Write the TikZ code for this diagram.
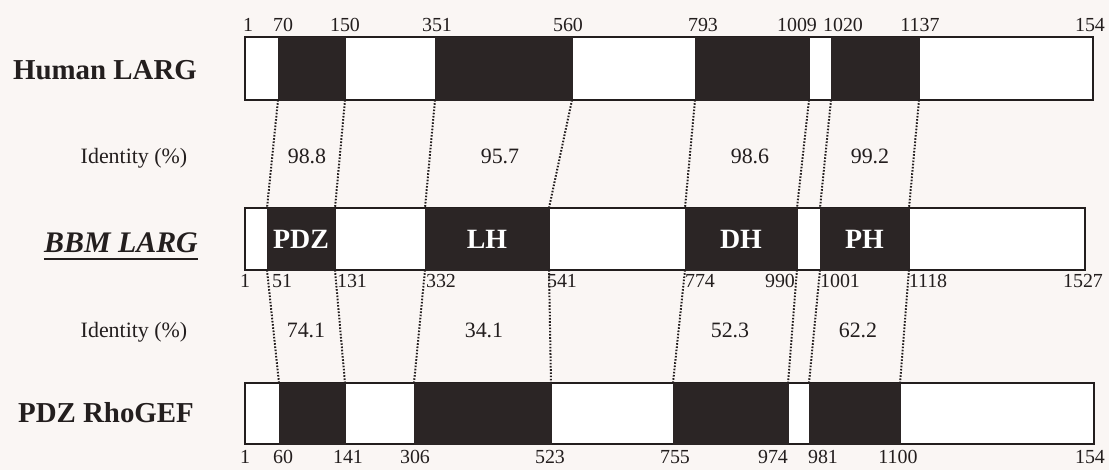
\documentclass[tikz,border=0pt]{standalone}
\usepackage{fontspec}
\setmainfont{Liberation Serif}
\definecolor{domc}{RGB}{43,37,37}
\definecolor{bgc}{RGB}{250,246,244}
\definecolor{ink}{RGB}{35,30,30}
\begin{document}
\begin{tikzpicture}[x=1bp,y=-1bp,
  protbar/.style={draw=ink, line width=1.1bp, fill=white, inner sep=0pt, outer sep=0pt, anchor=north west, rectangle},
  dombox/.style={draw=domc, fill=domc, line width=0.6bp, inner sep=0pt, outer sep=0pt, anchor=north west, rectangle,
    text=white, font=\fontsize{28}{28}\selectfont\bfseries},
  dotl/.style={dash pattern=on 1.6bp off 1.6bp, line width=2bp, draw=ink},
  num/.style={font=\fontsize{20}{20}\selectfont, text=ink, anchor=base, inner sep=0pt},
  ident/.style={font=\fontsize{22}{22}\selectfont, text=ink, anchor=base, inner sep=0pt},
  protlabel/.style={font=\fontsize{29}{29}\selectfont\bfseries, text=ink, anchor=base, inner sep=0pt}]
\useasboundingbox (0,0) rectangle (1109,470);
\fill[bgc] (0,0) rectangle (1109,470);

% bars
\node[protbar, minimum width=848bp, minimum height=63bp] (hbar) at (245,37) {};
\node[protbar, minimum width=840bp, minimum height=62bp] (bbar) at (245,208) {};
\node[protbar, minimum width=849bp, minimum height=61bp] (pbar) at (245,383) {};

% human domains
\node[dombox, minimum width=67bp, minimum height=63bp] (hd1) at (278,37) {};
\node[dombox, minimum width=137bp, minimum height=63bp] (hd2) at (435,37) {};
\node[dombox, minimum width=114bp, minimum height=63bp] (hd3) at (695,37) {};
\node[dombox, minimum width=88bp, minimum height=63bp] (hd4) at (831,37) {};
% BBM domains
\node[dombox, minimum width=68bp, minimum height=62bp] (bd1) at (267,208) {PDZ};
\node[dombox, minimum width=124bp, minimum height=62bp] (bd2) at (425,208) {LH};
\node[dombox, minimum width=112bp, minimum height=62bp] (bd3) at (685,208) {DH};
\node[dombox, minimum width=89bp, minimum height=62bp] (bd4) at (820,208) {PH};
% PDZ RhoGEF domains
\node[dombox, minimum width=66bp, minimum height=61bp] (pd1) at (279,383) {};
\node[dombox, minimum width=137bp, minimum height=61bp] (pd2) at (414,383) {};
\node[dombox, minimum width=115bp, minimum height=61bp] (pd3) at (673,383) {};
\node[dombox, minimum width=91bp, minimum height=61bp] (pd4) at (809,383) {};

% dotted alignment lines
\foreach \i in {1,2,3,4}{
  \draw[dotl] (hd\i.south west) -- (bd\i.north west);
  \draw[dotl] (hd\i.south east) -- (bd\i.north east);
  \draw[dotl] (bd\i.south west) -- (pd\i.north west);
  \draw[dotl] (bd\i.south east) -- (pd\i.north east);
}

% top numbers
\node[num] (t1) at (248,32) {1};
\node[num] (t2) at (283,32) {70};
\node[num] (t3) at (345,32) {150};
\node[num] (t4) at (437,32) {351};
\node[num] (t5) at (568,32) {560};
\node[num] (t6) at (703,32) {793};
\node[num] (t7) at (797,32) {1009};
\node[num] (t8) at (843,32) {1020};
\node[num] (t9) at (920,32) {1137};
\node[num] (t10) at (1090,32) {154};
% middle numbers
\node[num] (m1) at (245,288) {1};
\node[num] (m2) at (282,288) {51};
\node[num] (m3) at (352,288) {131};
\node[num] (m4) at (441,288) {332};
\node[num] (m5) at (562,288) {541};
\node[num] (m6) at (700,288) {774};
\node[num] (m7) at (780,288) {990};
\node[num] (m8) at (840,288) {1001};
\node[num] (m9) at (928,288) {1118};
\node[num] (m10) at (1083,288) {1527};
% bottom numbers
\node[num] (b1) at (245,463) {1};
\node[num] (b2) at (283,463) {60};
\node[num] (b3) at (348,463) {141};
\node[num] (b4) at (415,463) {306};
\node[num] (b5) at (550,463) {523};
\node[num] (b6) at (675,463) {755};
\node[num] (b7) at (773,463) {974};
\node[num] (b8) at (823,463) {981};
\node[num] (b9) at (898,463) {1100};
\node[num] (b10) at (1090,463) {154};

% identity values
\node[ident] (i1) at (307,164) {98.8};
\node[ident] (i2) at (500,164) {95.7};
\node[ident] (i3) at (750,164) {98.6};
\node[ident] (i4) at (870,164) {99.2};
\node[ident] (j1) at (306,338) {74.1};
\node[ident] (j2) at (484,338) {34.1};
\node[ident] (j3) at (730,338) {52.3};
\node[ident] (j4) at (858,338) {62.2};

% left labels
\node[protlabel] (hname) at (105,80) {Human LARG};
\node[ident] (id1) at (134,164) {Identity (\%)};
\node[protlabel, font=\fontsize{30}{30}\selectfont\bfseries\itshape] (bname) at (121,253) {BBM LARG};
\draw[ink, line width=1.6bp] ([yshift=-6bp]bname.base west) -- ([yshift=-6bp]bname.base east);
\node[ident] (id2) at (134,338) {Identity (\%)};
\node[protlabel] (pname) at (106,423) {PDZ RhoGEF};
\end{tikzpicture}
\end{document}
